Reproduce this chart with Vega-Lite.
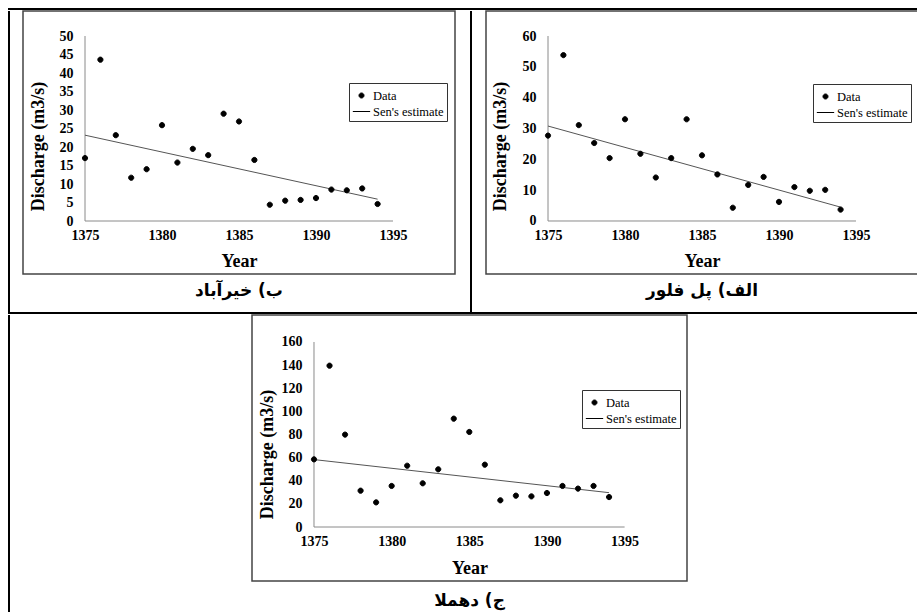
{
  "$schema": "https://vega.github.io/schema/vega-lite/v6.json",
  "background": "white",
  "padding": {"left": 8, "top": 8, "right": 0, "bottom": 0},
  "spacing": 0,
  "resolve": {"scale": {"shape": "independent"}, "legend": {"shape": "independent"}},
  "datasets": {
    "A": [
      {"year": 1375, "q": 17.0}, {"year": 1376, "q": 43.6}, {"year": 1377, "q": 23.2}, {"year": 1378, "q": 11.7},
      {"year": 1379, "q": 14.0}, {"year": 1380, "q": 25.9}, {"year": 1381, "q": 15.8}, {"year": 1382, "q": 19.5},
      {"year": 1383, "q": 17.8}, {"year": 1384, "q": 29.0}, {"year": 1385, "q": 26.9}, {"year": 1386, "q": 16.5},
      {"year": 1387, "q": 4.4}, {"year": 1388, "q": 5.5}, {"year": 1389, "q": 5.7}, {"year": 1390, "q": 6.2},
      {"year": 1391, "q": 8.5}, {"year": 1392, "q": 8.3}, {"year": 1393, "q": 8.8}, {"year": 1394, "q": 4.6}
    ],
    "senA": [{"year": 1375, "q": 23.2}, {"year": 1394, "q": 5.9}],
    "B": [
      {"year": 1375, "q": 27.7}, {"year": 1376, "q": 53.8}, {"year": 1377, "q": 31.1}, {"year": 1378, "q": 25.3},
      {"year": 1379, "q": 20.4}, {"year": 1380, "q": 33.0}, {"year": 1381, "q": 21.8}, {"year": 1382, "q": 14.1},
      {"year": 1383, "q": 20.4}, {"year": 1384, "q": 33.0}, {"year": 1385, "q": 21.3}, {"year": 1386, "q": 15.1},
      {"year": 1387, "q": 4.3}, {"year": 1388, "q": 11.7}, {"year": 1389, "q": 14.3}, {"year": 1390, "q": 6.2},
      {"year": 1391, "q": 11.0}, {"year": 1392, "q": 9.8}, {"year": 1393, "q": 10.1}, {"year": 1394, "q": 3.7}
    ],
    "senB": [{"year": 1375, "q": 30.8}, {"year": 1394, "q": 4.5}],
    "C": [
      {"year": 1375, "q": 58.5}, {"year": 1376, "q": 139.5}, {"year": 1377, "q": 79.9}, {"year": 1378, "q": 31.4},
      {"year": 1379, "q": 21.3}, {"year": 1380, "q": 35.5}, {"year": 1381, "q": 53.0}, {"year": 1382, "q": 37.8},
      {"year": 1383, "q": 49.9}, {"year": 1384, "q": 93.7}, {"year": 1385, "q": 82.2}, {"year": 1386, "q": 53.9},
      {"year": 1387, "q": 23.1}, {"year": 1388, "q": 27.1}, {"year": 1389, "q": 26.5}, {"year": 1390, "q": 29.4},
      {"year": 1391, "q": 35.5}, {"year": 1392, "q": 33.2}, {"year": 1393, "q": 35.5}, {"year": 1394, "q": 25.9}
    ],
    "senC": [{"year": 1375, "q": 58.3}, {"year": 1394, "q": 29.7}]
  },
  "vconcat": [
    {"width": 912, "height": 2, "data": {"values": []}, "mark": "point", "view": {"fill": "black", "stroke": null}},
    {
      "spacing": 0,
      "resolve": {"scale": {"shape": "independent"}, "legend": {"shape": "independent"}},
      "hconcat": [
        {"width": 2, "height": 301, "data": {"values": []}, "mark": "point", "view": {"fill": "black", "stroke": null}},
        {"width": 12, "height": 1, "data": {"values": []}, "mark": "point"},
        {
          "width": 432, "height": 263,
          "view": {"stroke": "#444444", "strokeWidth": 1.5},
          "title": {"text": "ب) خیرآباد", "orient": "bottom", "anchor": "middle", "offset": 9, "font": "DejaVu Sans", "fontSize": 17, "fontWeight": "bold", "color": "black"},
          "layer": [
            {"data": {"values": [{}]}, "mark": {"type": "rule", "color": "#8a8a8a", "strokeWidth": 1}, "encoding": {"x": {"datum": 1375, "type": "quantitative"}, "y": {"datum": 0, "type": "quantitative"}, "y2": {"datum": 50}}},
            {"data": {"values": [{}]}, "mark": {"type": "rule", "color": "#8a8a8a", "strokeWidth": 1}, "encoding": {"x": {"datum": 1375, "type": "quantitative"}, "x2": {"datum": 1395}, "y": {"datum": 0, "type": "quantitative"}}},
            {"data": {"name": "senA"}, "mark": {"type": "line", "color": "#555555", "strokeWidth": 1}, "encoding": {"x": {"field": "year", "type": "quantitative"}, "y": {"field": "q", "type": "quantitative"}}},
            {
              "data": {"name": "A"},
              "mark": {"type": "point", "filled": true, "color": "black", "stroke": "black", "strokeWidth": 1, "size": 320, "opacity": 1},
              "encoding": {
                "x": {"field": "year", "type": "quantitative", "scale": {"domain": [1370.974, 1399.026], "nice": false, "zero": false},
                  "axis": {"values": [1375, 1380, 1385, 1390, 1395], "tickCount": 30, "format": "d", "offset": -53, "labelPadding": 7, "labelOverlap": false, "title": "Year", "titleY": 45, "titleBaseline": "alphabetic"}},
                "y": {"field": "q", "type": "quantitative", "scale": {"domain": [-14.32, 56.76], "nice": false, "zero": false},
                  "axis": {"values": [0, 5, 10, 15, 20, 25, 30, 35, 40, 45, 50], "tickCount": 30, "format": "d", "offset": -62, "labelPadding": 12, "labelOverlap": false, "title": "Discharge (m3/s)", "titleX": -47, "titleY": 135, "titleAngle": -90, "titleAlign": "center", "titleBaseline": "middle"}},
                "shape": {"datum": "Data", "scale": {"domain": ["Data", "Sen's estimate"], "range": ["M0.29,0A0.29,0.29,0,1,1,-0.29,0A0.29,0.29,0,1,1,0.29,0Z", "stroke"]},
                  "legend": {"orient": "none", "legendX": 326, "legendY": 72, "title": null, "fillColor": "white", "strokeColor": "#333333", "padding": 3, "symbolSize": 300, "symbolStrokeWidth": 1, "labelFont": "Liberation Serif", "labelFontSize": 12.5, "labelColor": "black", "labelOffset": 2, "rowPadding": 0, "labelLimit": 200,
                    "encode": {"symbols": {"stroke": {"value": "#555555"}, "strokeWidth": {"value": 1}}, "legend": {"strokeWidth": {"value": 1.5}}}}}
              }
            }
          ]
        },
        {"width": 14, "height": 1, "data": {"values": []}, "mark": "point"},
        {"width": 2, "height": 301, "data": {"values": []}, "mark": "point", "view": {"fill": "black", "stroke": null}},
        {"width": 13, "height": 1, "data": {"values": []}, "mark": "point"},
        {
          "width": 432, "height": 263,
          "view": {"stroke": "#444444", "strokeWidth": 1.5},
          "title": {"text": "الف) پل فلور", "orient": "bottom", "anchor": "middle", "offset": 9, "font": "DejaVu Sans", "fontSize": 17, "fontWeight": "bold", "color": "black"},
          "layer": [
            {"data": {"values": [{}]}, "mark": {"type": "rule", "color": "#8a8a8a", "strokeWidth": 1}, "encoding": {"x": {"datum": 1375, "type": "quantitative"}, "y": {"datum": 0, "type": "quantitative"}, "y2": {"datum": 60}}},
            {"data": {"values": [{}]}, "mark": {"type": "rule", "color": "#8a8a8a", "strokeWidth": 1}, "encoding": {"x": {"datum": 1375, "type": "quantitative"}, "x2": {"datum": 1395}, "y": {"datum": 0, "type": "quantitative"}}},
            {"data": {"name": "senB"}, "mark": {"type": "line", "color": "#555555", "strokeWidth": 1}, "encoding": {"x": {"field": "year", "type": "quantitative"}, "y": {"field": "q", "type": "quantitative"}}},
            {
              "data": {"name": "B"},
              "mark": {"type": "point", "filled": true, "color": "black", "stroke": "black", "strokeWidth": 1, "size": 320, "opacity": 1},
              "encoding": {
                "x": {"field": "year", "type": "quantitative", "scale": {"domain": [1370.974, 1399.026], "nice": false, "zero": false},
                  "axis": {"values": [1375, 1380, 1385, 1390, 1395], "tickCount": 30, "format": "d", "offset": -53, "labelPadding": 7, "labelOverlap": false, "title": "Year", "titleY": 45, "titleBaseline": "alphabetic"}},
                "y": {"field": "q", "type": "quantitative", "scale": {"domain": [-17.19, 68.11], "nice": false, "zero": false},
                  "axis": {"values": [0, 10, 20, 30, 40, 50, 60], "tickCount": 30, "format": "d", "offset": -62, "labelPadding": 12, "labelOverlap": false, "title": "Discharge (m3/s)", "titleX": -47.5, "titleY": 135, "titleAngle": -90, "titleAlign": "center", "titleBaseline": "middle"}},
                "shape": {"datum": "Data", "scale": {"domain": ["Data", "Sen's estimate"], "range": ["M0.29,0A0.29,0.29,0,1,1,-0.29,0A0.29,0.29,0,1,1,0.29,0Z", "stroke"]},
                  "legend": {"orient": "none", "legendX": 327, "legendY": 73, "title": null, "fillColor": "white", "strokeColor": "#333333", "padding": 3, "symbolSize": 300, "symbolStrokeWidth": 1, "labelFont": "Liberation Serif", "labelFontSize": 12.5, "labelColor": "black", "labelOffset": 2, "rowPadding": 0, "labelLimit": 200,
                    "encode": {"symbols": {"stroke": {"value": "#555555"}, "strokeWidth": {"value": 1}}, "legend": {"strokeWidth": {"value": 1.5}}}}}
              }
            }
          ]
        }
      ]
    },
    {"width": 912, "height": 2, "data": {"values": []}, "mark": "point", "view": {"fill": "black", "stroke": null}},
    {
      "spacing": 0,
      "resolve": {"scale": {"shape": "independent"}, "legend": {"shape": "independent"}},
      "hconcat": [
        {"width": 2, "height": 300, "data": {"values": []}, "mark": "point", "view": {"fill": "black", "stroke": null}},
        {"width": 241, "height": 1, "data": {"values": []}, "mark": "point"},
        {
          "width": 435, "height": 266,
          "view": {"stroke": "#444444", "strokeWidth": 1.5},
          "title": {"text": "ج) دهملا", "orient": "bottom", "anchor": "middle", "offset": 12, "font": "DejaVu Sans", "fontSize": 17, "fontWeight": "bold", "color": "black"},
          "layer": [
            {"data": {"values": [{}]}, "mark": {"type": "rule", "color": "#8a8a8a", "strokeWidth": 1}, "encoding": {"x": {"datum": 1375, "type": "quantitative"}, "y": {"datum": 0, "type": "quantitative"}, "y2": {"datum": 160}}},
            {"data": {"values": [{}]}, "mark": {"type": "rule", "color": "#8a8a8a", "strokeWidth": 1}, "encoding": {"x": {"datum": 1375, "type": "quantitative"}, "x2": {"datum": 1395}, "y": {"datum": 0, "type": "quantitative"}}},
            {"data": {"name": "senC"}, "mark": {"type": "line", "color": "#555555", "strokeWidth": 1}, "encoding": {"x": {"field": "year", "type": "quantitative"}, "y": {"field": "q", "type": "quantitative"}}},
            {
              "data": {"name": "C"},
              "mark": {"type": "point", "filled": true, "color": "black", "stroke": "black", "strokeWidth": 1, "size": 320, "opacity": 1},
              "encoding": {
                "x": {"field": "year", "type": "quantitative", "scale": {"domain": [1371.008, 1399.018], "nice": false, "zero": false},
                  "axis": {"values": [1375, 1380, 1385, 1390, 1395], "tickCount": 30, "format": "d", "offset": -54, "labelPadding": 7, "labelOverlap": false, "title": "Year", "titleY": 46, "titleBaseline": "alphabetic"}},
                "y": {"field": "q", "type": "quantitative", "scale": {"domain": [-46.7, 183.35], "nice": false, "zero": false},
                  "axis": {"values": [0, 20, 40, 60, 80, 100, 120, 140, 160], "tickCount": 30, "format": "d", "offset": -62, "labelPadding": 12, "labelOverlap": false, "title": "Discharge (m3/s)", "titleX": -46.5, "titleY": 139, "titleAngle": -90, "titleAlign": "center", "titleBaseline": "middle"}},
                "shape": {"datum": "Data", "scale": {"domain": ["Data", "Sen's estimate"], "range": ["M0.29,0A0.29,0.29,0,1,1,-0.29,0A0.29,0.29,0,1,1,0.29,0Z", "stroke"]},
                  "legend": {"orient": "none", "legendX": 330, "legendY": 75, "title": null, "fillColor": "white", "strokeColor": "#333333", "padding": 3, "symbolSize": 300, "symbolStrokeWidth": 1, "labelFont": "Liberation Serif", "labelFontSize": 12.5, "labelColor": "black", "labelOffset": 2, "rowPadding": 0, "labelLimit": 200,
                    "encode": {"symbols": {"stroke": {"value": "#555555"}, "strokeWidth": {"value": 1}}, "legend": {"strokeWidth": {"value": 1.5}}}}}
              }
            }
          ]
        }
      ]
    }
  ],
  "config": {
    "view": {"stroke": null},
    "axis": {
      "domain": false, "ticks": false, "tickSize": 0, "grid": false,
      "labelFont": "Liberation Serif", "labelFontSize": 14, "labelFontWeight": "bold", "labelColor": "black",
      "labelFlush": false, "labelOverlap": false, "labelBound": false,
      "titleFont": "Liberation Serif", "titleFontSize": 18, "titleFontWeight": "bold", "titleColor": "black"
    }
  }
}
